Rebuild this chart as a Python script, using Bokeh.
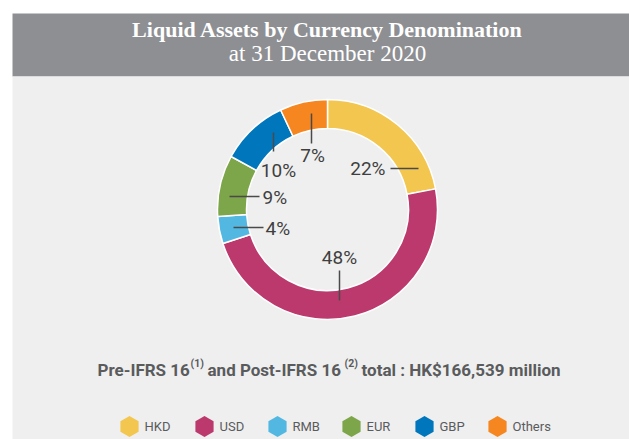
import numpy as np
from bokeh.plotting import figure
from bokeh.models import Range1d, ColumnDataSource
from bokeh.core.properties import value
from bokeh.embed import file_html
from bokeh.resources import INLINE

# ---------------- data ----------------
categories = ["HKD", "USD", "RMB", "EUR", "GBP", "Others"]
shares = [22, 48, 4, 9, 10, 7]
colors = ["#f3c650", "#bc396d", "#52b8e2", "#7da54a", "#0076bd", "#f58620"]
title_line1 = "Liquid Assets by Currency Denomination"
title_line2 = "at 31 December 2020"
total_parts = ["Pre-IFRS 16", "(1)", "and Post-IFRS 16", "(2)", "total : HK$166,539 million"]

# ---------------- layout ----------------
W, H = 629, 439
def X(px):  # page pixel -> data x
    return px
def Y(py):  # page pixel -> data y
    return H - py

CX, CY = 327, 209        # donut centre (page px)
R_OUT, R_IN = 110, 81

SANS = "Roboto, sans-serif"
SERIF = "Liberation Serif, serif"

p = figure(width=W, height=H, x_range=Range1d(0, W), y_range=Range1d(0, H),
           output_backend="svg", toolbar_location=None,
           x_axis_location=None, y_axis_location=None, min_border=0,
           outline_line_color=None, background_fill_color="white",
           border_fill_color="white")
p.grid.visible = False

# panel backgrounds
p.quad(left=X(12), right=W, bottom=Y(76), top=Y(13), fill_color="#8e8f93", line_color=None)
p.quad(left=X(12), right=W, bottom=0, top=Y(76), fill_color="#efefef", line_color=None)

# title
p.text(x=[X(327)], y=[Y(29)], text=[title_line1], text_font=value(SERIF),
       text_font_style="bold", text_font_size="22px", text_color="white",
       text_align="center", text_baseline="middle")
p.text(x=[X(327)], y=[Y(53)], text=[title_line2], text_font=value(SERIF),
       text_font_size="23px", text_color="white",
       text_align="center", text_baseline="middle")

# donut
frac = np.array(shares, dtype=float) / sum(shares)
cum = np.concatenate([[0], np.cumsum(frac)])
start = np.pi / 2 - 2 * np.pi * cum[:-1]
end = np.pi / 2 - 2 * np.pi * cum[1:]
src = ColumnDataSource(dict(start=start, end=end, color=colors, cat=categories))
p.annular_wedge(x=X(CX), y=Y(CY), inner_radius=R_IN, outer_radius=R_OUT,
                start_angle="start", end_angle="end", direction="clock",
                fill_color="color", line_color="white", line_width=1.5, source=src)

# label layout (offsets from donut centre, page px): leader x0,y0,x1,y1 ; text x,y,align
label_layout = {
    "HKD":    ((63, -41, 91, -41),   (58, -41, "right")),
    "USD":    ((12, 61, 12, 91),     (12, 48, "center")),
    "RMB":    ((-94, 18, -64, 18),   (-62, 19, "left")),
    "EUR":    ((-98, -13, -68, -13), (-65, -12, "left")),
    "GBP":    ((-54, -77, -54, -58), (-49, -39, "center")),
    "Others": ((-16, -96, -16, -66), (-15, -54, "center")),
}
sx0, sy0, sx1, sy1 = [], [], [], []
for i, c in enumerate(categories):
    (a, b, cc, d), (tx, ty, al) = label_layout[c]
    sx0.append(X(CX + a)); sy0.append(Y(CY + b))
    sx1.append(X(CX + cc)); sy1.append(Y(CY + d))
    p.text(x=[X(CX + tx)], y=[Y(CY + ty)], text=[f"{shares[i]}%"],
           text_font=value(SANS), text_font_size="19px", text_color="#3f3f3f",
           text_align=al, text_baseline="middle")
p.segment(x0=sx0, y0=sy0, x1=sx1, y1=sy1, line_color="#4a4a4a", line_width=1.5)

# total line
part_x = [97, 190, 207, 344, 361]
part_big = [True, False, True, False, True]
for t, px, big in zip(total_parts, part_x, part_big):
    p.text(x=[X(px)], y=[Y(369 if big else 363)], text=[t], text_font=value(SANS),
           text_font_style="bold", text_font_size="17px" if big else "10.5px",
           text_color="#5a5b5d", text_align="left", text_baseline="middle")

# legend
leg_x = [129, 204, 277, 351, 424, 497]
p.scatter(x=[X(v) for v in leg_x], y=[Y(426)] * len(leg_x), marker="hex", size=21,
          angle=np.pi / 6, fill_color=colors, line_color=None)
p.text(x=[X(v + 15) for v in leg_x], y=[Y(426)] * len(leg_x), text=categories,
       text_font=value(SANS), text_font_size="13px", text_color="#5a5b5d",
       text_align="left", text_baseline="middle")

open("out.html", "w").write(file_html(p, INLINE))
